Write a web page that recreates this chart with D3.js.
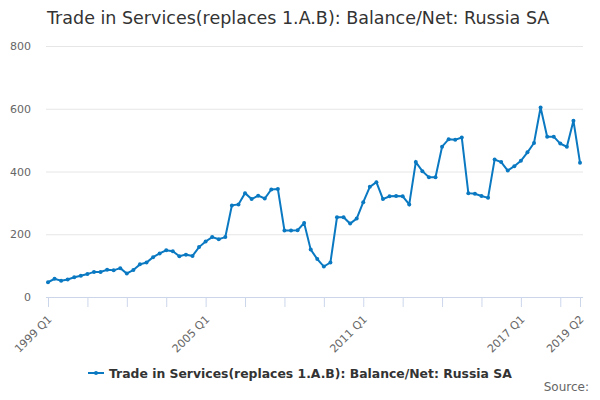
<!DOCTYPE html>
<html><head><meta charset="utf-8">
<script src="https://cdn.jsdelivr.net/npm/d3@7"></script>
<style>body{margin:0;background:#fff;font-family:"DejaVu Sans",sans-serif;}</style>
</head><body><svg id="c" width="600" height="400"></svg>
<script>
const title = "Trade in Services(replaces 1.A.B): Balance/Net: Russia SA";
const seriesName = "Trade in Services(replaces 1.A.B): Balance/Net: Russia SA";
const startYear = 1999;
const values = [47,58,52,56,63,68,73,80,80,87,85,92,75,86,104,110,127,139,149,146,130,135,131,159,
177,191,184,191,292,295,331,312,323,314,343,344,212,212,213,236,151,121,97,110,254,254,234,250,
302,351,366,312,321,322,321,295,430,401,382,382,479,503,501,508,331,329,322,316,438,430,403,417,
434,461,491,604,511,511,489,479,562,428];
const categories = values.map((v,i)=> (startYear+Math.floor(i/4)) + " Q" + (i%4+1));
const yTicks = [0,200,400,600,800];
const labeledTicks = ["1999 Q1","2005 Q1","2011 Q1","2017 Q1","2019 Q2"];

const svg = d3.select("#c");
const color = "#0a79c2";
const x = d3.scalePoint().domain(categories).range([48,580]);
const y = d3.scaleLinear().domain([0,800]).range([297,46]);

svg.append("text").attr("x",47).attr("y",24).attr("font-size",17.5).attr("fill","#333").text(title);

// grid
const gy = svg.append("g").attr("transform","translate(46,0)")
  .call(d3.axisLeft(y).tickValues(yTicks).tickSize(-537).tickPadding(15));
gy.select(".domain").remove();
gy.selectAll(".tick line").attr("stroke","#e6e6e6");
gy.selectAll(".tick text").attr("fill","#666").attr("font-size",11).attr("font-family","DejaVu Sans");
gy.selectAll(".tick").filter(d=>d===0).select("line").remove();

// x axis
const tickCats = categories.filter((c,i)=> i%6===0 || i===categories.length-1);
const gx = svg.append("g").attr("transform","translate(0,297)")
  .call(d3.axisBottom(x).tickValues(tickCats).tickSize(10).tickFormat(d=> labeledTicks.includes(d)?d:""));
gx.select(".domain").attr("stroke","#ccd6eb").attr("d","M46,0.5H583");
gx.selectAll(".tick line").attr("stroke","#ccd6eb");
gx.selectAll(".tick text").attr("fill","#666").attr("font-size",11).attr("font-family","DejaVu Sans")
  .attr("text-anchor","end").attr("dy",null).attr("y",0)
  .attr("transform","translate(4,23) rotate(-45)");

// line
const line = d3.line().x((d,i)=>x(categories[i])).y(d=>y(d));
svg.append("path").datum(values).attr("d",line).attr("fill","none").attr("stroke",color).attr("stroke-width",2);
svg.append("g").selectAll("circle").data(values).join("circle")
  .attr("cx",(d,i)=>x(categories[i])).attr("cy",d=>y(d)).attr("r",2).attr("fill",color);

// legend
const lg = svg.append("g").attr("transform","translate(88,373)");
lg.append("line").attr("x1",0).attr("x2",16).attr("y1",0).attr("y2",0).attr("stroke",color).attr("stroke-width",2);
lg.append("circle").attr("cx",8).attr("cy",0).attr("r",2).attr("fill",color);
lg.append("text").attr("x",21).attr("y",4.5).attr("font-size",12.4).attr("font-weight","bold").attr("fill","#333").text(seriesName);

svg.append("text").attr("x",589).attr("y",391).attr("text-anchor","end").attr("font-size",12).attr("fill","#666").text("Source:");
</script></body></html>
